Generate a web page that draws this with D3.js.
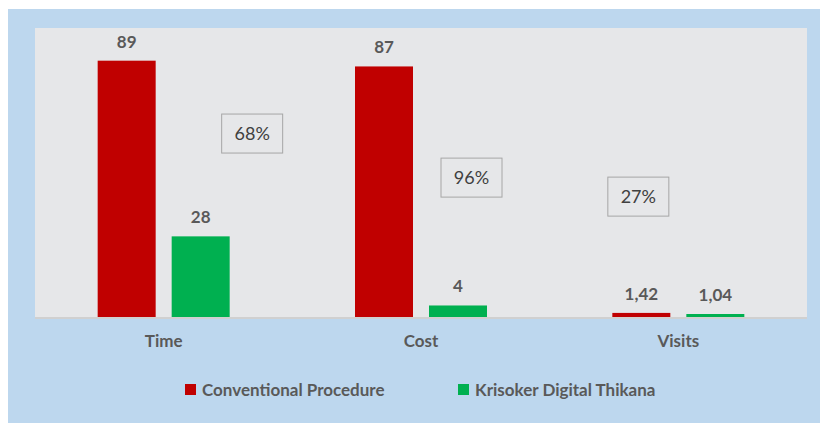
<!DOCTYPE html>
<html>
<head>
<meta charset="utf-8">
<script src="https://cdn.jsdelivr.net/npm/d3@7"></script>
<style>
  body { margin: 0; background: #ffffff; }
  svg { display: block; font-family: Lato, "Open Sans", sans-serif; }
</style>
</head>
<body>
<div id="chart"></div>
<script>
let categories = ["Time", "Cost", "Visits"];
let seriesNames = ["Conventional Procedure", "Krisoker Digital Thikana"];
let conventional = [89, 87, 1.42];
let digital = [28, 4, 1.04];
let valueLabels = [["89", "28"], ["87", "4"], ["1,42", "1,04"]];
let reductions = ["68%", "96%", "27%"];
let reductionLevels = [63.7, 48.4, 41.8];

let colors = ["#c00000", "#00b050"];

let svgWidth = 820;
let svgHeight = 423;

let svg = d3.select("#chart")
    .append("svg")
    .attr("width", svgWidth)
    .attr("height", svgHeight);

// outer blue panel
svg.append("rect")
    .attr("x", 8)
    .attr("y", 9)
    .attr("width", svgWidth - 8)
    .attr("height", svgHeight - 9)
    .attr("fill", "#bdd7ee");

let plot = { left: 35, right: 807, top: 28, bottom: 317 };

svg.append("rect")
    .attr("x", plot.left)
    .attr("y", plot.top)
    .attr("width", plot.right - plot.left)
    .attr("height", plot.bottom - plot.top + 2)
    .attr("fill", "#e6e7e9");

let xScale = d3.scaleBand()
    .domain(categories)
    .range([plot.left, plot.right]);

let xInner = d3.scaleBand()
    .domain([0, 1])
    .range([0, 132])
    .paddingInner(16 / 74);

let yScale = d3.scaleLinear()
    .domain([0, 100])
    .range([plot.bottom, plot.bottom - 288]);

let data = categories.map((c, i) => ({
    cat: c,
    values: [conventional[i], digital[i]],
    labels: valueLabels[i]
}));

let groups = svg.selectAll(".group")
    .data(data)
    .enter()
    .append("g")
    .attr("transform", d => `translate(${xScale(d.cat) + xScale.bandwidth() / 2 - 66}, 0)`);

groups.selectAll("rect")
    .data(d => d.values.map((v, j) => ({ v: v, j: j, label: d.labels[j] })))
    .enter()
    .append("rect")
    .attr("x", d => xInner(d.j))
    .attr("y", d => yScale(d.v))
    .attr("width", xInner.bandwidth())
    .attr("height", d => yScale(0) - yScale(d.v))
    .attr("fill", d => colors[d.j]);

groups.selectAll("text.val")
    .data(d => d.values.map((v, j) => ({ v: v, j: j, label: d.labels[j] })))
    .enter()
    .append("text")
    .attr("class", "val")
    .attr("x", d => xInner(d.j) + xInner.bandwidth() / 2)
    .attr("y", d => yScale(d.v) - 13)
    .attr("text-anchor", "middle")
    .attr("font-size", 17)
    .attr("font-weight", "bold")
    .attr("fill", "#595959")
    .text(d => d.label);

// baseline
svg.append("line")
    .attr("x1", plot.left)
    .attr("x2", plot.right)
    .attr("y1", plot.bottom + 1)
    .attr("y2", plot.bottom + 1)
    .attr("stroke", "#d0d0d0")
    .attr("stroke-width", 2);

// category labels
let bottomAxis = d3.axisBottom(xScale).tickSize(0).tickPadding(17);
let axisG = svg.append("g")
    .attr("transform", `translate(0, ${plot.bottom + 1})`)
    .call(bottomAxis);
axisG.select(".domain").remove();
axisG.selectAll("text")
    .attr("font-size", 17)
    .attr("font-weight", "bold")
    .attr("font-family", "Lato, 'Open Sans', sans-serif")
    .attr("fill", "#595959");

// reduction boxes
let boxOffsets = [88.5, 50.5, -40];
reductions.forEach((r, i) => {
    let cx = xScale(categories[i]) + xScale.bandwidth() / 2 + boxOffsets[i];
    let cy = yScale(reductionLevels[i]);
    let g = svg.append("g");
    g.append("rect")
        .attr("x", cx - 30.5)
        .attr("y", cy - 19.5)
        .attr("width", 61)
        .attr("height", 39)
        .attr("fill", "none")
        .attr("stroke", "#a6a6a6")
        .attr("stroke-width", 1);
    g.append("text")
        .attr("x", cx)
        .attr("y", cy + 6.5)
        .attr("text-anchor", "middle")
        .attr("font-size", 18)
        .attr("fill", "#404040")
        .text(r);
});

// legend
let legendX = [185, 458];
seriesNames.forEach((s, i) => {
    svg.append("rect")
        .attr("x", legendX[i])
        .attr("y", 384)
        .attr("width", 11)
        .attr("height", 11)
        .attr("fill", colors[i]);
    svg.append("text")
        .attr("x", legendX[i] + 17)
        .attr("y", 396)
        .attr("font-size", 17)
        .attr("font-weight", "bold")
        .attr("fill", "#595959")
        .text(s);
});
</script>
</body>
</html>
